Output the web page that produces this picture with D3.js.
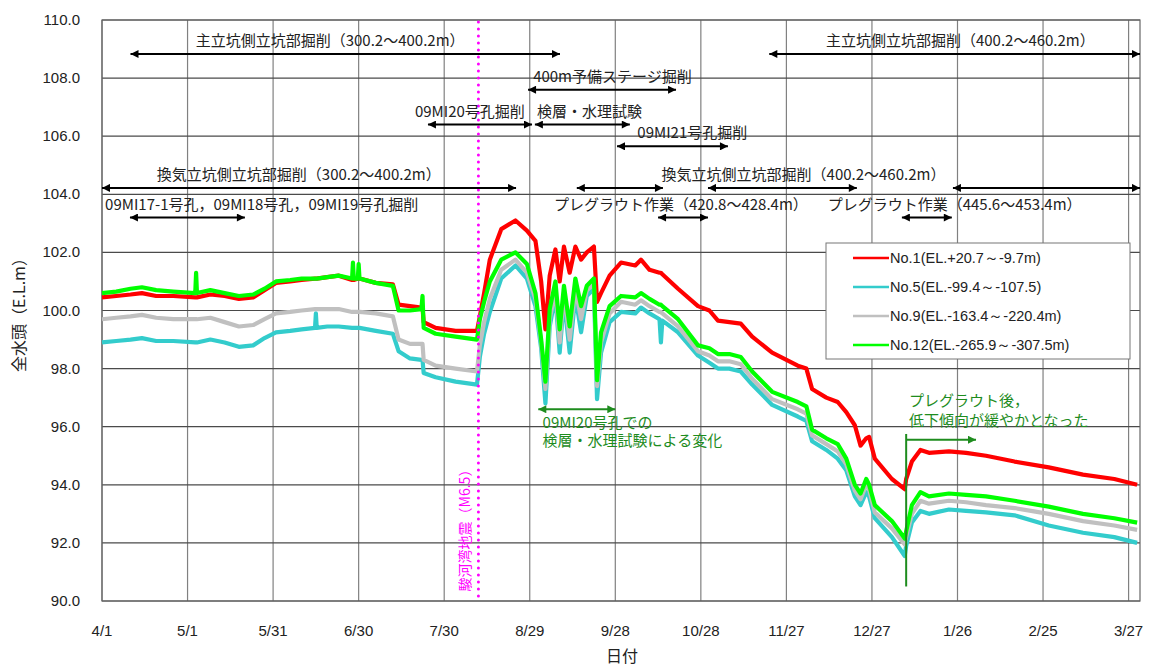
<!DOCTYPE html>
<html lang="ja">
<head>
<meta charset="UTF-8">
<title>全水頭</title>
<script src="https://d3js.org/d3.v7.min.js"></script>
<style>
  body { margin: 0; background: #fff; }
  text { font-family: "Noto Sans CJK JP", "Noto Sans", sans-serif; }
  .num { font-family: "Liberation Sans", Arial, sans-serif; }
</style>
</head>
<body>
<svg id="chart" width="1150" height="666"></svg>
<script>
const dayOffsets = [0, 5, 10, 14, 19, 25, 32.7, 33, 33.3, 38, 43, 48, 53, 57, 61, 66, 70, 74.7, 75, 75.3,
  79, 83, 87.7, 88, 88.3, 89.7, 90, 90.3, 96, 102, 104, 108, 112, 112.4, 112.8, 117, 124, 131.5, 132.5,
  134, 136, 140, 145, 149, 152, 154, 155.5, 157, 159, 160.5, 162, 164, 166, 168, 170, 172.5, 173.6, 175,
  178, 182, 187, 189, 192, 195.5, 196, 196.5, 202, 209, 213, 216, 220, 224, 228, 235, 244, 247, 249, 254,
  258, 261, 264, 266, 268, 269, 271, 277, 281.5, 282, 284, 287, 290, 297, 303, 310, 320, 332, 344, 355, 363];

const no1 = [100.45, 100.5, 100.55, 100.6, 100.5, 100.5, 100.45, 100.45, 100.45, 100.55, 100.5, 100.4, 100.45, 100.7, 100.95, 101.0, 101.05, 101.1, 101.1, 101.1,
  101.15, 101.2, 101.05, 101.05, 101.05, 101.1, 101.1, 101.1, 100.95, 100.9, 100.2, 100.15, 100.1, 100.1, 99.6, 99.4, 99.3, 99.3, 99.8,
  100.6, 101.75, 102.8, 103.1, 102.75, 102.4, 101.0, 99.35, 101.2, 102.1, 101.0, 102.2, 101.3, 102.2, 101.75, 102.0, 102.2, 100.3, 100.6,
  101.2, 101.65, 101.55, 101.75, 101.4, 101.3, 101.3, 101.25, 100.75, 100.15, 100.0, 99.65, 99.6, 99.55, 99.1, 98.55, 98.1, 98.0, 97.3, 97.0,
  96.85, 96.5, 96.05, 95.35, 95.6, 95.65, 94.9, 94.2, 93.85, 94.2, 94.8, 95.2, 95.1, 95.15, 95.1, 95.0, 94.8, 94.6, 94.35, 94.2, 94.0];

const no5 = [98.9, 98.95, 99.0, 99.05, 98.95, 98.95, 98.9, 98.9, 98.9, 99.0, 98.9, 98.75, 98.8, 99.05, 99.25, 99.3, 99.35, 99.4, 99.9, 99.4,
  99.45, 99.45, 99.4, 99.4, 99.4, 99.4, 99.4, 99.4, 99.3, 99.2, 98.6, 98.35, 98.3, 98.3, 97.85, 97.7, 97.55, 97.45, 98.4,
  99.2, 99.95, 101.1, 101.55, 101.1, 100.15, 98.7, 96.8, 99.45, 100.5, 98.55, 100.4, 98.55, 100.5, 99.25, 100.5, 100.75, 96.95, 98.55,
  99.6, 99.95, 99.9, 100.1, 99.9, 99.7, 98.9, 99.65, 99.25, 98.45, 98.2, 98.0, 98.0, 97.9, 97.45, 96.75, 96.35, 96.2, 95.5, 95.2,
  94.9, 94.5, 93.6, 93.3, 93.75, 93.6, 92.85, 92.2, 91.55, 91.9, 92.7, 93.1, 93.0, 93.15, 93.1, 93.05, 92.95, 92.6, 92.35, 92.2, 92.0];

const no9 = [99.7, 99.75, 99.8, 99.85, 99.75, 99.7, 99.7, 99.7, 99.7, 99.75, 99.6, 99.45, 99.5, 99.7, 99.9, 99.95, 100.0, 100.05, 100.05, 100.05,
  100.05, 100.05, 99.95, 99.95, 99.95, 99.95, 99.95, 99.95, 99.9, 99.8, 99.0, 98.85, 98.85, 98.85, 98.3, 98.1, 98.0, 97.9, 98.8,
  99.6, 100.4, 101.4, 101.75, 101.3, 100.4, 98.9, 97.3, 99.7, 100.7, 98.9, 100.6, 99.0, 100.75, 99.7, 100.7, 100.9, 97.4, 98.9,
  99.9, 100.3, 100.2, 100.35, 100.15, 99.95, 99.95, 99.9, 99.45, 98.6, 98.45, 98.25, 98.25, 98.15, 97.65, 96.95, 96.6, 96.45, 95.7, 95.4,
  95.15, 94.7, 93.8, 93.5, 94.0, 93.85, 93.05, 92.5, 91.95, 92.2, 93.0, 93.45, 93.35, 93.45, 93.4, 93.3, 93.2, 93.0, 92.75, 92.6, 92.45];

const no12 = [100.6, 100.65, 100.75, 100.8, 100.7, 100.65, 100.6, 101.3, 100.6, 100.7, 100.6, 100.5, 100.55, 100.75, 101.0, 101.05, 101.1, 101.1, 101.1, 101.1,
  101.15, 101.2, 101.1, 101.65, 101.1, 101.1, 101.6, 101.1, 100.95, 100.85, 100.0, 100.0, 100.05, 100.5, 99.4, 99.2, 99.1, 99.0, 99.7,
  100.3, 101.0, 101.75, 102.0, 101.6, 100.6, 99.0, 97.55, 100.05, 101.0, 99.35, 100.85, 99.45, 101.1, 100.15, 100.85, 101.1, 97.6, 99.25,
  100.15, 100.5, 100.45, 100.6, 100.4, 100.2, 100.2, 100.15, 99.7, 98.8, 98.7, 98.5, 98.5, 98.4, 97.9, 97.2, 96.85, 96.7, 95.9, 95.6,
  95.4, 94.9, 94.0, 93.7, 94.2, 94.0, 93.3, 92.75, 92.15, 92.4, 93.3, 93.75, 93.6, 93.7, 93.65, 93.6, 93.45, 93.25, 93.0, 92.85, 92.7];

const seriesNames = ["No.1(EL.+20.7～-9.7m)", "No.5(EL.-99.4～-107.5)", "No.9(EL.-163.4～-220.4m)", "No.12(EL.-265.9～-307.5m)"];
const seriesColors = ["#ff0000", "#33cccc", "#c0c0c0", "#00ff00"];

const yTicks = [90, 92, 94, 96, 98, 100, 102, 104, 106, 108, 110];
const xTickDays = [0, 30, 60, 90, 120, 150, 180, 210, 240, 270, 300, 330, 360];
const quakeDay = 132;

// work periods: [from day, to day, level, label, label day]
const works = [
  [10, 160.6, 108.83, "主立坑側立坑部掘削（300.2～400.2m）", 80],
  [234, 364, 108.83, "主立坑側立坑部掘削（400.2～460.2m）", 301],
  [149.4, 201.3, 107.6, "400m予備ステージ掘削", 179],
  [114.3, 150.8, 106.4, "09MI20号孔掘削", 129],
  [151.8, 185.1, 106.4, "検層・水理試験", 171],
  [180.6, 219.5, 105.65, "09MI21号孔掘削", 207],
  [0, 145.2, 104.22, "換気立坑側立坑部掘削（300.2～400.2m）", 69],
  [166.5, 196.7, 104.22, "", 0],
  [212.5, 264.7, 104.22, "換気立坑側立坑部掘削（400.2～460.2m）", 246],
  [298.4, 364, 104.22, "", 0],
  [9.8, 50.1, 103.2, "09MI17-1号孔，09MI18号孔，09MI19号孔掘削", 56],
  [195, 212.5, 103.2, "プレグラウト作業（420.8～428.4m）", 203],
  [280.5, 298, 103.2, "プレグラウト作業（445.6～453.4m）", 299]
];

const svg = d3.select("#chart");
const day0 = Date.UTC(2009, 3, 1);
const toDate = d => new Date(day0 + d * 864e5);

const x = d3.scaleUtc().domain([toDate(0), toDate(364)]).range([102, 1140]);
const y = d3.scaleLinear().domain([90, 110]).range([601, 20]);
const xd = d => x(toDate(d));

// arrow heads
const defs = svg.append("defs");
[["blk", "#000"], ["grn", "#1e8c1e"]].forEach(([id, c]) => {
  defs.append("marker").attr("id", "end-" + id).attr("viewBox", "0 0 10 10")
    .attr("refX", 10).attr("refY", 5).attr("markerWidth", 10).attr("markerHeight", 8)
    .attr("markerUnits", "userSpaceOnUse").attr("orient", "auto")
    .append("path").attr("d", "M0,0L10,5L0,10z").attr("fill", c);
  defs.append("marker").attr("id", "start-" + id).attr("viewBox", "0 0 10 10")
    .attr("refX", 0).attr("refY", 5).attr("markerWidth", 10).attr("markerHeight", 8)
    .attr("markerUnits", "userSpaceOnUse").attr("orient", "auto")
    .append("path").attr("d", "M10,0L0,5L10,10z").attr("fill", c);
});

// grid
svg.append("g").selectAll("line").data(xTickDays).join("line")
  .attr("x1", d => xd(d)).attr("x2", d => xd(d)).attr("y1", 20).attr("y2", 601)
  .attr("stroke", "#808080").attr("stroke-width", 1.2);
svg.append("g").selectAll("line").data(yTicks).join("line")
  .attr("x1", 102).attr("x2", 1140).attr("y1", d => y(d)).attr("y2", d => y(d))
  .attr("stroke", "#4a4a4a").attr("stroke-width", 1.2);
svg.append("rect").attr("x", 102).attr("y", 20).attr("width", 1038).attr("height", 581)
  .attr("fill", "none").attr("stroke", "#666").attr("stroke-width", 1.2);

// axes labels
svg.append("g").selectAll("text").data(yTicks).join("text")
  .attr("class", "num").attr("x", 80).attr("y", d => y(d) + 5)
  .attr("text-anchor", "end").attr("font-size", 15).attr("fill", "#222")
  .text(d => d.toFixed(1));
const fmt = d3.utcFormat("%-m/%-d");
svg.append("g").selectAll("text").data(xTickDays).join("text")
  .attr("class", "num").attr("x", d => xd(d)).attr("y", 636)
  .attr("text-anchor", "middle").attr("font-size", 15).attr("fill", "#222")
  .text(d => fmt(toDate(d)));
svg.append("text").attr("x", 622).attr("y", 662).attr("text-anchor", "middle")
  .attr("font-size", 16).attr("fill", "#222").text("日付");
svg.append("text").attr("transform", "translate(25,311) rotate(-90)").attr("text-anchor", "middle")
  .attr("font-size", 16).attr("fill", "#222").text("全水頭（E.L.m）");

// series
const allSeries = [no1, no5, no9, no12];
const line = d3.line().x((d, i) => xd(dayOffsets[i])).y(d => y(d));
svg.append("g").selectAll("path").data(allSeries).join("path")
  .attr("d", d => line(d)).attr("fill", "none")
  .attr("stroke", (d, i) => seriesColors[i]).attr("stroke-width", 4.2)
  .attr("stroke-linejoin", "round");

// earthquake
svg.append("line").attr("x1", xd(quakeDay)).attr("x2", xd(quakeDay)).attr("y1", 22).attr("y2", 601)
  .attr("stroke", "#ff00ff").attr("stroke-width", 3).attr("stroke-linecap", "round")
  .attr("stroke-dasharray", "0,7");
svg.append("text").attr("transform", `translate(${xd(quakeDay) - 8},527) rotate(-90)`)
  .attr("text-anchor", "middle").attr("font-size", 14).attr("fill", "#ff00ff")
  .text("駿河湾地震（M6.5）");

// work periods
const wg = svg.append("g");
works.forEach(([a, b, v, label, ld]) => {
  wg.append("line").attr("x1", xd(a)).attr("x2", xd(b)).attr("y1", y(v)).attr("y2", y(v))
    .attr("stroke", "#000").attr("stroke-width", 2)
    .attr("marker-start", "url(#start-blk)").attr("marker-end", "url(#end-blk)");
  if (label) {
    wg.append("text").attr("x", xd(ld)).attr("y", y(v) - 8).attr("text-anchor", "middle")
      .attr("font-size", 15).attr("fill", "#222").text(label);
  }
});

// green notes
const green = "#1e8c1e";
svg.append("line").attr("x1", xd(153)).attr("x2", xd(180)).attr("y1", y(96.6)).attr("y2", y(96.6))
  .attr("stroke", green).attr("stroke-width", 2)
  .attr("marker-start", "url(#start-grn)").attr("marker-end", "url(#end-grn)");
svg.append("text").attr("x", xd(154.5)).attr("y", y(95.97)).attr("font-size", 15).attr("fill", green).text("09MI20号孔での");
svg.append("text").attr("x", xd(154.5)).attr("y", y(95.32)).attr("font-size", 15).attr("fill", green).text("検層・水理試験による変化");

svg.append("line").attr("x1", xd(282)).attr("x2", xd(282)).attr("y1", y(95.75)).attr("y2", y(90.5))
  .attr("stroke", green).attr("stroke-width", 2);
svg.append("line").attr("x1", xd(282)).attr("x2", xd(306.5)).attr("y1", y(95.55)).attr("y2", y(95.55))
  .attr("stroke", green).attr("stroke-width", 2).attr("marker-end", "url(#end-grn)");
svg.append("text").attr("x", xd(283)).attr("y", y(96.7)).attr("font-size", 15).attr("fill", green).text("プレグラウト後，");
svg.append("text").attr("x", xd(283)).attr("y", y(96.02)).attr("font-size", 15).attr("fill", green).text("低下傾向が緩やかとなった");

// legend
const lg = svg.append("g").attr("transform", "translate(826,243)");
lg.append("rect").attr("width", 304).attr("height", 116).attr("fill", "#fff").attr("stroke", "#777");
seriesNames.forEach((name, i) => {
  lg.append("line").attr("x1", 27).attr("x2", 63).attr("y1", 15 + i * 29).attr("y2", 15 + i * 29)
    .attr("stroke", seriesColors[i]).attr("stroke-width", 2.5);
  lg.append("text").attr("class", "num").attr("x", 64).attr("y", 20 + i * 29)
    .attr("font-size", 14.5).attr("fill", "#222").text(name);
});
</script>
</body>
</html>
